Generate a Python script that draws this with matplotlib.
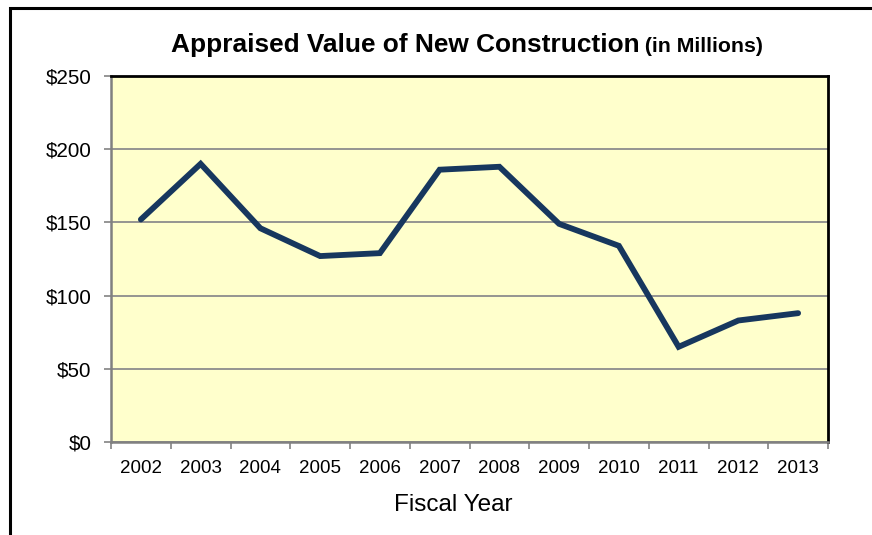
import matplotlib
matplotlib.use("Agg")
import matplotlib.pyplot as plt
from matplotlib.patches import Rectangle
from matplotlib.ticker import FuncFormatter, FixedLocator

years = ["2002", "2003", "2004", "2005", "2006", "2007", "2008", "2009", "2010", "2011", "2012", "2013"]
values = [152, 190, 146, 127, 129, 186, 188, 149, 134, 65, 83, 88]
yticks = [0, 50, 100, 150, 200, 250]

plt.rcParams['font.family'] = ['Liberation Sans', 'DejaVu Sans']

W, H = 872, 535
fig = plt.figure(figsize=(W / 100, H / 100), dpi=100)
fig.patch.set_facecolor('white')

ax = fig.add_axes([111 / W, 1 - 442 / H, (828 - 111) / W, (442 - 76) / H])
ax.set_facecolor('#FFFFCC')

x = list(range(len(years)))
ax.plot(x, values, color='#17375E', lw=4.2, solid_joinstyle='miter', solid_capstyle='round', zorder=3)

ax.set_xlim(-0.5, len(years) - 0.5)
ax.set_ylim(0, 250)
ax.set_yticks(yticks)
ax.yaxis.set_major_formatter(FuncFormatter(lambda v, p: f"${int(v)}"))
ax.grid(axis='y', color='#8C8C8C', lw=1.3, zorder=1)
ax.set_axisbelow(True)

ax.set_xticks(x)
ax.set_xticklabels(years, fontsize=13.5)
ax.xaxis.set_minor_locator(FixedLocator([i - 0.5 for i in range(len(years) + 1)]))
ax.tick_params(axis='x', which='major', length=0, pad=13)
ax.tick_params(axis='x', which='minor', length=5, width=1.3, color='#8C8C8C', direction='out')
ax.tick_params(axis='y', length=5, width=1.3, color='#8C8C8C', labelsize=14.8, pad=9)

for s in ['left', 'bottom']:
    ax.spines[s].set_color('#808080')
    ax.spines[s].set_linewidth(1.8)
for s in ['top', 'right']:
    ax.spines[s].set_color('black')
    ax.spines[s].set_linewidth(2.0)

ax.set_xlabel('Fiscal Year', fontsize=17.5, labelpad=12)
ax.xaxis.label.set_x((453.5 - 111) / (828 - 111))

# title in two parts
fig.canvas.draw()
r = fig.canvas.get_renderer()
t1 = fig.text(0, 0, 'Appraised Value of New Construction', fontsize=18.9, fontweight='bold')
t2 = fig.text(0, 0, ' (in Millions)', fontsize=15.3, fontweight='bold')
w1 = t1.get_window_extent(r).width
w2 = t2.get_window_extent(r).width
cx = 467
start = cx - (w1 + w2) / 2
yb = 1 - 52 / H
t1.set_position((start / W, yb))
t2.set_position(((start + w1) / W, yb))

# outer frame
fig.add_artist(Rectangle((10 / W, -0.1), 1.2, 1.1 - 8 / H, transform=fig.transFigure,
                         fill=False, edgecolor='black', lw=2.2))

fig.savefig('out.png', dpi=100)
